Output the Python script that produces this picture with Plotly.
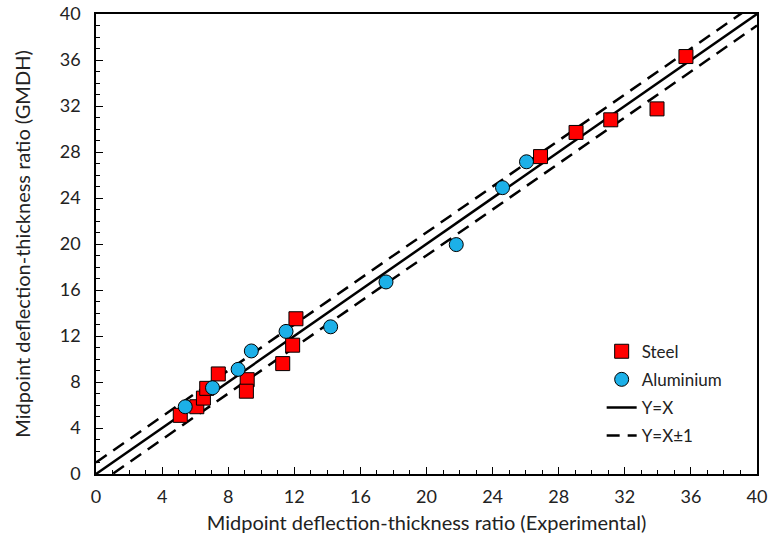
import plotly.graph_objects as go

steel_x = [5.1, 6.1, 6.5, 6.7, 7.4, 9.15, 9.1, 11.3, 11.9, 12.1, 26.9, 29.05, 31.15, 33.95, 35.7]
steel_y = [5.1, 5.85, 6.6, 7.45, 8.7, 8.2, 7.2, 9.6, 11.2, 13.5, 27.6, 29.7, 30.8, 31.75, 36.3]

alu_x = [5.4, 7.05, 8.6, 9.4, 11.5, 14.2, 17.55, 21.8, 24.6, 26.05]
alu_y = [5.85, 7.5, 9.1, 10.7, 12.4, 12.8, 16.7, 19.95, 24.9, 27.15]

line_x = [0, 40]
offset = 1

font = "Lato"
txt = "#222"

fig = go.Figure()

fig.add_trace(go.Scatter(x=line_x, y=line_x, mode="lines", name="Y=X",
                         line=dict(color="black", width=2.5),
                         legendgroup="yx", legendrank=3))
fig.add_trace(go.Scatter(x=line_x, y=[v + offset for v in line_x], mode="lines", name="Y=X±1",
                         line=dict(color="black", width=2.5, dash="13px,8px"),
                         legendgroup="pm", legendrank=4))
fig.add_trace(go.Scatter(x=line_x, y=[v - offset for v in line_x], mode="lines", name="Y=X±1",
                         line=dict(color="black", width=2.5, dash="13px,8px"),
                         legendgroup="pm", showlegend=False, legendrank=5))
fig.add_trace(go.Scatter(x=steel_x, y=steel_y, mode="markers", name="Steel",
                         marker=dict(symbol="square", size=14, color="#FF0000",
                                     line=dict(color="black", width=1)),
                         legendgroup="steel", legendrank=1))
fig.add_trace(go.Scatter(x=alu_x, y=alu_y, mode="markers", name="Aluminium",
                         marker=dict(symbol="circle", size=14, color="#1CB0E8",
                                     line=dict(color="black", width=1)),
                         legendgroup="alu", legendrank=2))

axis_common = dict(
    range=[0, 40], dtick=4, tick0=0, ticks="inside", ticklen=7, tickwidth=1,
    tickcolor="black", showgrid=False, zeroline=False,
    showline=True, linecolor="black", linewidth=1.5, mirror=True,
    minor=dict(dtick=1, ticks="inside", ticklen=4, tickcolor="black", tickwidth=1),
    tickfont=dict(family=font, size=18, color=txt),
    automargin=False,
)

fig.update_xaxes(**axis_common, ticklabelstandoff=6,
                 title=dict(text="Midpoint deflection-thickness ratio (Experimental)",
                            font=dict(family=font, size=20, color=txt), standoff=10))
fig.update_yaxes(**axis_common, ticklabelstandoff=10,
                 title=dict(text="Midpoint deflection-thickness ratio (GMDH)",
                            font=dict(family=font, size=20, color=txt), standoff=24))

fig.update_layout(
    width=769, height=548,
    margin=dict(l=96, r=12, t=14, b=74),
    plot_bgcolor="white", paper_bgcolor="white",
    legend=dict(x=0.765, y=0.305, xanchor="left", yanchor="top",
                font=dict(family=font, size=17, color=txt),
                bgcolor="rgba(0,0,0,0)", tracegroupgap=3),
)

fig.write_html("out.html", config={"displayModeBar": False},
               post_script="document.body.style.margin='0';document.body.style.overflow='hidden';")
